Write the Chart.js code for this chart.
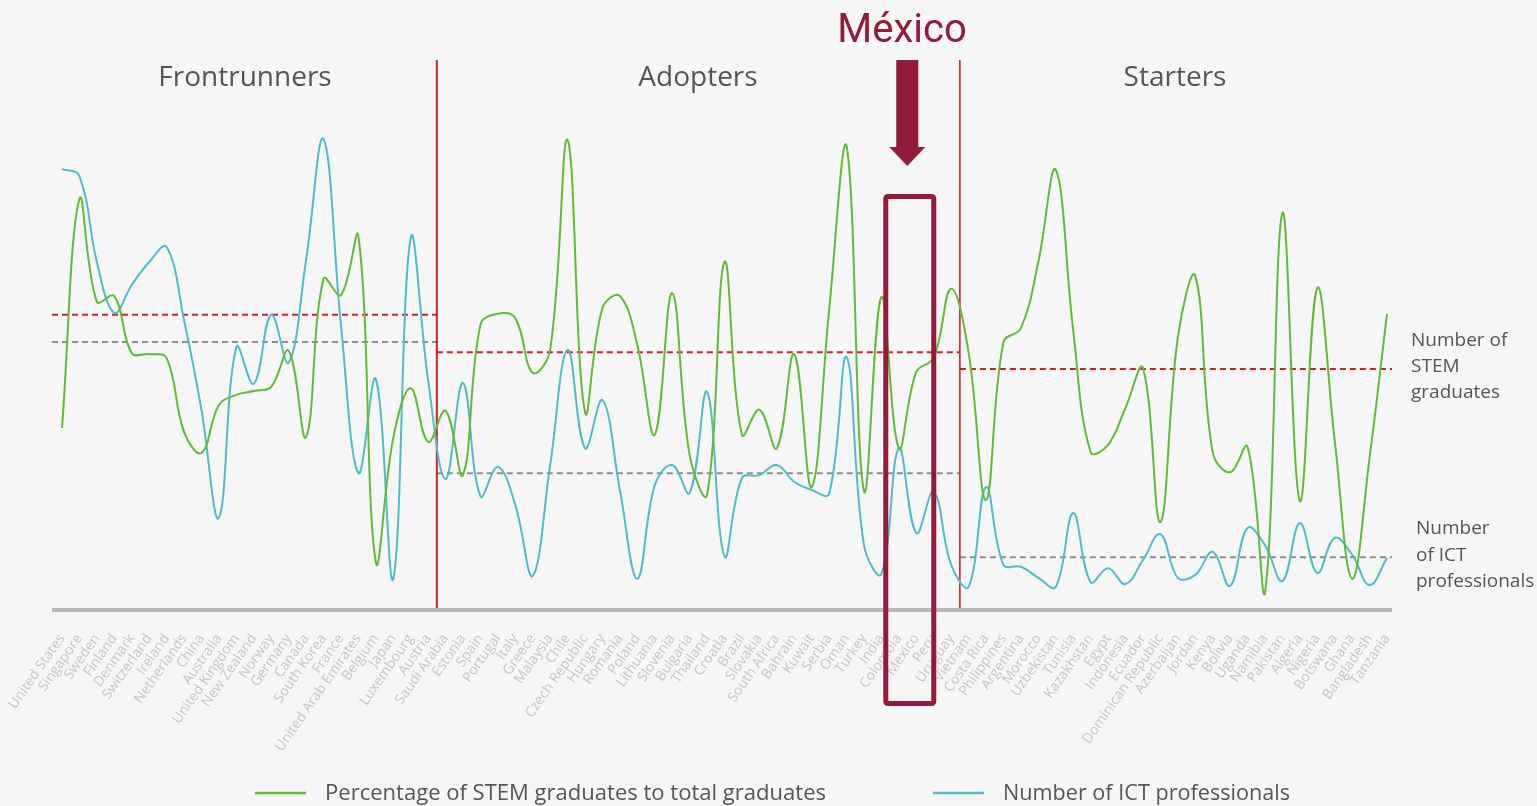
<!DOCTYPE html>
<html lang="en">
<head>
    <meta charset="UTF-8">
    <meta name="viewport" content="width=device-width, initial-scale=1.0">
    <title>STEM graduates and ICT professionals</title>

    <script charset="utf-8" type="text/javascript" src="https://cdn.jsdelivr.net/npm/chart.js@4.4.1/dist/chart.umd.min.js"></script>

    <style>
        html, body {margin: 0;padding: 0;width: 100%;height: 100%;overflow: hidden;background: #f6f6f6;}
        #box {position: absolute;left: 0;top: 0;width: 1537px;height: 806px;}
    </style>

    <script>
        // countries, ordered as on the slide
        const countries = ['United States', 'Singapore', 'Sweden', 'Finland', 'Denmark', 'Switzerland', 'Ireland', 'Netherlands',
            'China', 'Australia', 'United Kingdom', 'New Zealand', 'Norway', 'Germany', 'Canada', 'South Korea', 'France',
            'United Arab Emirates', 'Belgium', 'Japan', 'Luxembourg', 'Austria',
            'Saudi Arabia', 'Estonia', 'Spain', 'Portugal', 'Italy', 'Greece', 'Malaysia', 'Chile', 'Czech Republic', 'Hungary',
            'Romania', 'Poland', 'Lithuania', 'Slovenia', 'Bulgaria', 'Thailand', 'Croatia', 'Brazil', 'Slovakia', 'South Africa',
            'Bahrain', 'Kuwait', 'Serbia', 'Oman', 'Turkey', 'India', 'Colombia', 'Mexico', 'Peru', 'Uruguay',
            'Vietnam', 'Costa Rica', 'Philippines', 'Argentina', 'Morocco', 'Uzbekistan', 'Tunisia', 'Kazakhstan', 'Egypt',
            'Indonesia', 'Ecuador', 'Dominican Republic', 'Azerbaijan', 'Jordan', 'Kenya', 'Bolivia', 'Uganda', 'Namibia',
            'Pakistan', 'Algeria', 'Nigeria', 'Botswana', 'Ghana', 'Bangladesh', 'Tanzania'];

        // percentage of STEM graduates (index 0-100, no axis on the slide)
        const stemShare = [37.7, 85.4, 64.0, 65.2, 53.3, 53.1, 52.3, 36.9, 32.5, 42.5, 44.6, 45.4, 46.3, 53.8, 35.8, 68.8, 65.4,
            77.7, 9.8, 35.6, 46.0, 34.8,
            41.3, 27.9, 59.2, 61.5, 60.6, 49.2, 54.0, 97.7, 41.0, 62.7, 65.2, 55.0, 36.3, 65.8, 32.1, 23.8, 72.3, 36.3,
            41.5, 33.5, 53.1, 25.4, 62.3, 96.5, 24.6, 65.0, 33.5, 49.4, 52.3, 66.7,
            53.5, 22.7, 55.6, 58.5, 72.3, 91.5, 58.1, 32.7, 34.2, 41.9, 50.2, 18.1, 56.5, 69.4, 32.7, 28.5, 33.8, 3.3,
            82.5, 22.5, 66.9, 35.2, 6.3, 31.5, 61.5];

        // number of ICT professionals (index 0-100)
        const ictPros = [91.7, 90.2, 72.3, 61.7, 67.5, 72.3, 75.4, 60.2, 41.5, 19.0, 54.6, 46.9, 61.3, 51.3, 72.7, 97.9, 59.2,
            28.3, 47.9, 6.3, 77.3, 47.7,
            27.1, 47.1, 23.5, 29.6, 21.7, 6.9, 30.0, 54.0, 33.5, 43.5, 24.8, 6.3, 25.8, 30.0, 24.2, 45.2, 11.0, 27.3,
            27.9, 30.0, 26.5, 24.8, 24.0, 52.5, 13.3, 7.3, 33.5, 15.8, 24.4, 9.2,
            4.6, 25.4, 9.2, 8.8, 6.5, 4.6, 20.0, 5.6, 8.5, 5.2, 10.2, 15.6, 6.5, 7.1, 11.9, 4.8, 16.9, 13.3,
            5.8, 17.9, 7.5, 14.8, 11.3, 5.0, 10.6];

        // groups: name, first and last country index, average lines
        const groupNames = ['Frontrunners', 'Adopters', 'Starters'];
        const groupFirst = [0, 22, 52];
        const groupLast = [21, 51, 76];
        const stemAvg = [61.3, 53.5, 50.0];
        const ictAvg = [55.6, 28.3, 10.8];

        const highlight = 'Mexico';

        const GREEN = '#62bb36', CYAN = '#4dbec7', RED = '#d2202a', MAROON = '#921a3a', GREY_TXT = '#555555';

        // draws the slide decorations around the chart
        const slidePlugin = {
            id: 'slide',
            beforeDatasetsDraw(chart) {
                const ctx = chart.ctx, x = chart.scales.x, y = chart.scales.y;
                const step = x.getPixelForValue(1) - x.getPixelForValue(0);
                const bounds = [];
                for (let g = 0; g < groupNames.length; g++) {
                    let l = g === 0 ? x.getPixelForValue(0) - 10 : (x.getPixelForValue(groupFirst[g]) - step / 2);
                    let r = g === groupNames.length - 1 ? x.getPixelForValue(groupLast[g]) + 5 : (x.getPixelForValue(groupLast[g]) + step / 2);
                    bounds.push([l, r]);
                }
                ctx.save();
                // average lines
                ctx.lineWidth = 2;
                for (let g = 0; g < bounds.length; g++) {
                    ctx.setLineDash([6, 4]);
                    ctx.strokeStyle = '#8e8e8e';
                    ctx.beginPath();
                    ctx.moveTo(bounds[g][0], y.getPixelForValue(ictAvg[g]));
                    ctx.lineTo(bounds[g][1], y.getPixelForValue(ictAvg[g]));
                    ctx.stroke();
                    ctx.strokeStyle = RED;
                    ctx.beginPath();
                    ctx.moveTo(bounds[g][0], y.getPixelForValue(stemAvg[g]));
                    ctx.lineTo(bounds[g][1], y.getPixelForValue(stemAvg[g]));
                    ctx.stroke();
                }
                ctx.setLineDash([]);
                // group dividers
                ctx.strokeStyle = RED;
                for (let g = 1; g < bounds.length; g++) {
                    ctx.lineWidth = g === 1 ? 2 : 1.6;
                    ctx.beginPath();
                    ctx.moveTo(bounds[g][0], 60);
                    ctx.lineTo(bounds[g][0], chart.chartArea.bottom);
                    ctx.stroke();
                }
                // baseline
                ctx.strokeStyle = '#bababa';
                ctx.lineWidth = 4;
                ctx.beginPath();
                ctx.moveTo(bounds[0][0], chart.chartArea.bottom + 1);
                ctx.lineTo(bounds[bounds.length - 1][1], chart.chartArea.bottom + 1);
                ctx.stroke();
                // group titles
                ctx.fillStyle = GREY_TXT;
                ctx.font = '28px "Open Sans"';
                ctx.textAlign = 'center';
                ctx.textBaseline = 'alphabetic';
                const titleX = [245, 698, 1175];
                for (let g = 0; g < groupNames.length; g++) {
                    ctx.fillText(groupNames[g], titleX[g], 86);
                }
                ctx.restore();
            },
            afterDraw(chart) {
                const ctx = chart.ctx, x = chart.scales.x;
                const mx = x.getPixelForValue(countries.indexOf(highlight));
                ctx.save();
                // México marker
                ctx.fillStyle = MAROON;
                ctx.font = '40px Roboto';
                ctx.textAlign = 'center';
                ctx.fillText('México', 902, 42);
                const ax = mx - 9;
                ctx.fillRect(ax - 11, 60, 22, 88);
                ctx.beginPath();
                ctx.moveTo(ax - 18, 147);
                ctx.lineTo(ax + 18, 147);
                ctx.lineTo(ax, 166);
                ctx.closePath();
                ctx.fill();
                ctx.strokeStyle = MAROON;
                ctx.lineWidth = 5;
                ctx.beginPath();
                ctx.roundRect(mx - 30.5, 196.5, 48, 507, 2);
                ctx.stroke();

                // side captions
                ctx.fillStyle = GREY_TXT;
                ctx.font = '19px "Open Sans"';
                ctx.textAlign = 'left';
                ['Number of', 'STEM', 'graduates'].forEach((t, i) => ctx.fillText(t, 1411, 346 + i * 26));
                ['Number', 'of ICT', 'professionals'].forEach((t, i) => ctx.fillText(t, 1416, 534 + i * 26.5));

                // legend (narrow font look)
                const items = [[GREEN, 'Percentage of STEM graduates to total graduates', 255, 501],
                    [CYAN, 'Number of ICT professionals', 933, 287]];
                ctx.font = '21px "Open Sans"';
                items.forEach(it => {
                    ctx.strokeStyle = it[0];
                    ctx.lineWidth = 2.5;
                    ctx.beginPath();
                    ctx.moveTo(it[2], 793);
                    ctx.lineTo(it[2] + 51, 793);
                    ctx.stroke();
                    const w = ctx.measureText(it[1]).width;
                    ctx.save();
                    ctx.translate(it[2] + 70, 800);
                    ctx.scale(it[3] / w, 1);
                    ctx.fillStyle = GREY_TXT;
                    ctx.fillText(it[1], 0, 0);
                    ctx.restore();
                });
                ctx.restore();
            }
        };

        function drawChart() {
            new Chart(document.getElementById('chart'), {
                type: 'line',
                data: {
                    labels: countries,
                    datasets: [{
                        label: 'Percentage of STEM graduates to total graduates',
                        data: stemShare,
                        borderColor: GREEN,
                        borderWidth: 2,
                        tension: 0.4,
                        pointRadius: 0,
                        clip: false
                    }, {
                        label: 'Number of ICT professionals',
                        data: ictPros,
                        borderColor: CYAN,
                        borderWidth: 2,
                        tension: 0.4,
                        pointRadius: 0,
                        clip: false
                    }]
                },
                options: {
                    responsive: true,
                    maintainAspectRatio: false,
                    animation: false,
                    layout: {padding: {left: 62, right: 150, top: 129, bottom: 0}},
                    plugins: {legend: {display: false}, tooltip: {enabled: false}},
                    scales: {
                        x: {
                            grid: {display: false},
                            border: {display: false},
                            afterFit: (s) => {
                                s.height = 197;
                                s.paddingLeft = 0;   // let the first rotated label hang out to the left
                                s.paddingRight = 0;
                            },
                            ticks: {
                                autoSkip: false,
                                minRotation: 55,
                                maxRotation: 55,
                                padding: 14,
                                color: '#c6c6c6',
                                font: {family: 'Open Sans', size: 14}
                            }
                        },
                        y: {display: false, min: 0, max: 100}
                    }
                },
                plugins: [slidePlugin]
            });
        }

        window.addEventListener('load', drawChart);
    </script>
</head>
<body>
<div id="box"><canvas id="chart"></canvas></div>
</body>
</html>
